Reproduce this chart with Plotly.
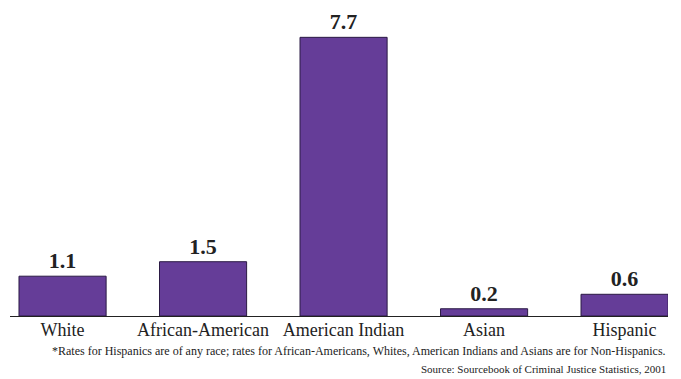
import plotly.graph_objects as go

# Rates by race/ethnicity
categories = ["White", "African-American", "American Indian", "Asian", "Hispanic"]
rates = [1.1, 1.5, 7.7, 0.2, 0.6]
value_labels = ["1.1", "1.5", "7.7", "0.2", "0.6"]

footnote = ("*Rates for Hispanics are of any race; rates for African-Americans, Whites, "
            "American Indians and Asians are for Non-Hispanics.")
source = "Source: Sourcebook of Criminal Justice Statistics, 2001"

serif = "Liberation Serif"

fig = go.Figure(
    go.Bar(
        x=categories,
        y=rates,
        width=0.62,
        marker=dict(color="#653d98", line=dict(color="#2b1a44", width=1)),
        text=value_labels,
        textposition="outside",
        textfont=dict(family=serif, size=22, color="#222222"),
        texttemplate="<b>%{text}</b>",
        cliponaxis=False,
        hoverinfo="skip",
    )
)

fig.update_layout(
    width=681,
    height=379,
    margin=dict(l=10, r=13, t=12, b=63),
    paper_bgcolor="white",
    plot_bgcolor="white",
    showlegend=False,
    bargap=0.38,
    font=dict(family=serif, color="#222222"),
    xaxis=dict(
        type="category",
        range=[-0.374, 4.309],
        showline=True,
        linecolor="#222222",
        linewidth=1,
        showgrid=False,
        ticks="",
        ticklabelstandoff=-3,
        tickfont=dict(family=serif, size=18, color="#222222"),
    ),
    yaxis=dict(
        range=[0, 8.4],
        visible=False,
        showgrid=False,
        zeroline=False,
    ),
    annotations=[
        dict(text=footnote, xref="paper", yref="paper", x=1.0, y=-0.115,
             xanchor="right", yanchor="middle", showarrow=False,
             font=dict(family=serif, size=12, color="#222222")),
        dict(text=source, xref="paper", yref="paper", x=1.0, y=-0.175,
             xanchor="right", yanchor="middle", showarrow=False,
             font=dict(family=serif, size=11, color="#222222")),
    ],
)

fig.write_html("out.html")
